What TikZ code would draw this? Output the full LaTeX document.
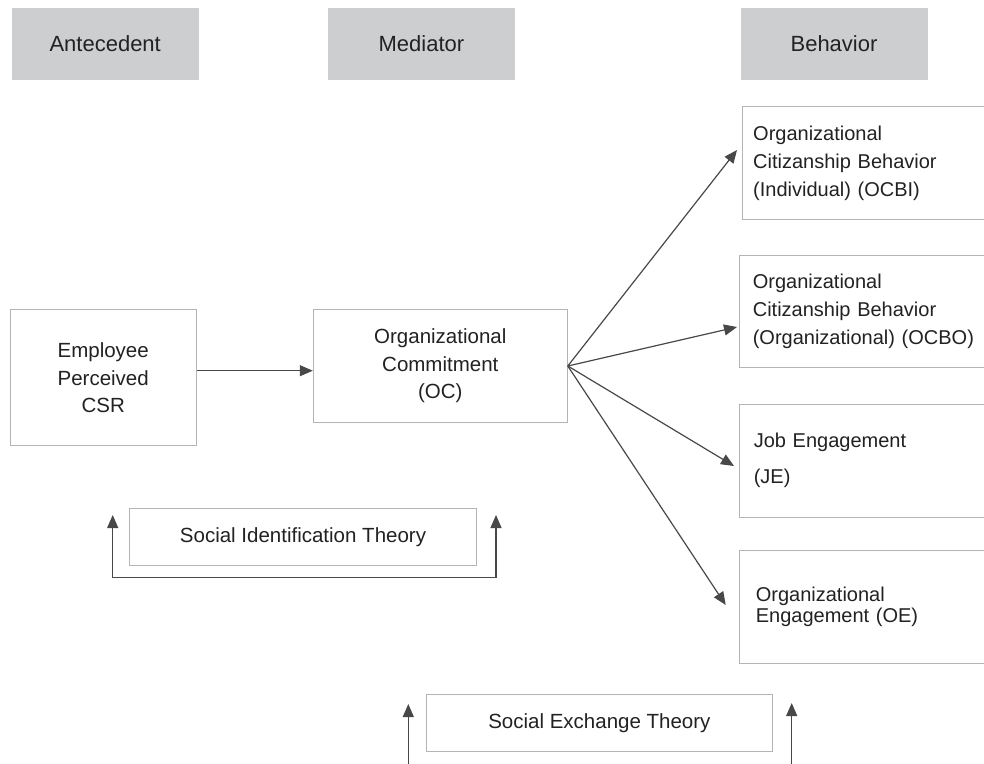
\documentclass[tikz,border=0pt]{standalone}
\usepackage{fontspec}
\setmainfont{Liberation Sans}
\usetikzlibrary{arrows.meta}
\definecolor{hdr}{RGB}{205,206,208}
\definecolor{bdr}{RGB}{180,180,180}
\definecolor{arr}{RGB}{72,72,72}
\definecolor{txt}{RGB}{34,34,34}
\begin{document}
\begin{tikzpicture}[x=1pt,y=-1pt,
  header/.style={fill=hdr, draw=none, minimum width=187pt, minimum height=72pt, inner sep=0pt, text=txt, font=\fontsize{22}{26}\selectfont},
  box/.style={draw=bdr, line width=1pt, fill=white, inner sep=0pt, text=txt, align=center, font=\fontsize{20.5}{27.5}\selectfont},
  rbox/.style={draw=bdr, line width=1pt, fill=white, anchor=west, inner ysep=0pt, minimum height=112.7pt, text width=240pt, align=left, text=txt, font=\fontsize{20}{28}\selectfont},
  conn/.style={draw=arr, line width=1.2pt, -{Triangle[length=13pt,width=11pt]}},
  bconn/.style={draw=arr, line width=1.2pt, {Triangle[length=13pt,width=11pt]}-{Triangle[length=13pt,width=11pt]}}
]
\useasboundingbox (0,0) rectangle (984,763);

% headers
\node[header] (hA) at (105.2,44) {Antecedent};
\node[header] (hM) at (421.4,44) {Mediator};
\node[header] (hB) at (834,44) {Behavior};

% main boxes
\node[box, minimum width=186.3pt, minimum height=135.7pt] (csr) at (103.2,377.8) {Employee\\Perceived\\CSR};
\node[box, minimum width=254pt, minimum height=113.4pt] (oc) at (440.3,366) {Organizational\\Commitment\\(OC)};

% behavior boxes
\node[rbox, inner xsep=11pt] (ocbi) at (741.7,163) {Organizational\\Citizanship Behavior\\(Individual) (OCBI)};
\node[rbox, inner xsep=13pt] (ocbo) at (739.3,311.4) {Organizational\\Citizanship Behavior\\(Organizational) (OCBO)};
\node[rbox, inner xsep=14pt] (je) at (739.3,460.7) {Job Engagement\\[8pt](JE)};
\node[rbox, inner xsep=16pt, font=\fontsize{20}{21}\selectfont] (oe) at (739.3,607.3) {Organizational\\Engagement (OE)};

% theory boxes
\node[box, minimum width=347.4pt, minimum height=57pt] (sit) at (303,536.8) {Social Identification Theory};
\node[box, minimum width=346.7pt, minimum height=56.7pt] (set) at (599.4,722.7) {Social Exchange Theory};

% connectors
\draw[conn] ([yshift=7.1pt]csr.east) -- ([yshift=7.1pt]csr.east -| oc.west);
\draw[conn] (oc.east) -- ([xshift=-4.7pt,yshift=13pt]ocbi.west);
\draw[conn] (oc.east) -- ([xshift=-2.3pt,yshift=-15.6pt]ocbo.west);
\draw[conn] (oc.east) -- ([xshift=-5.3pt,yshift=-5.3pt]je.west);
\draw[conn] (oc.east) -- ([xshift=-13.6pt,yshift=2.3pt]oe.west);

% social identification bracket
\coordinate (sitTL) at (112.7,515);
\coordinate (sitTR) at (496,515);
\coordinate (sitBL) at (112.7,577.3);
\coordinate (sitBR) at (496,577.3);
\draw[bconn] (sitTL) -- (sitBL) -- (sitBR) -- (sitTR);

% social exchange arrows
\coordinate (setL0) at (408.3,770);
\coordinate (setL1) at (408.3,704);
\coordinate (setR0) at (791.7,770);
\coordinate (setR1) at (791.7,703);
\draw[conn] (setL0) -- (setL1);
\draw[conn] (setR0) -- (setR1);
\end{tikzpicture}
\end{document}
